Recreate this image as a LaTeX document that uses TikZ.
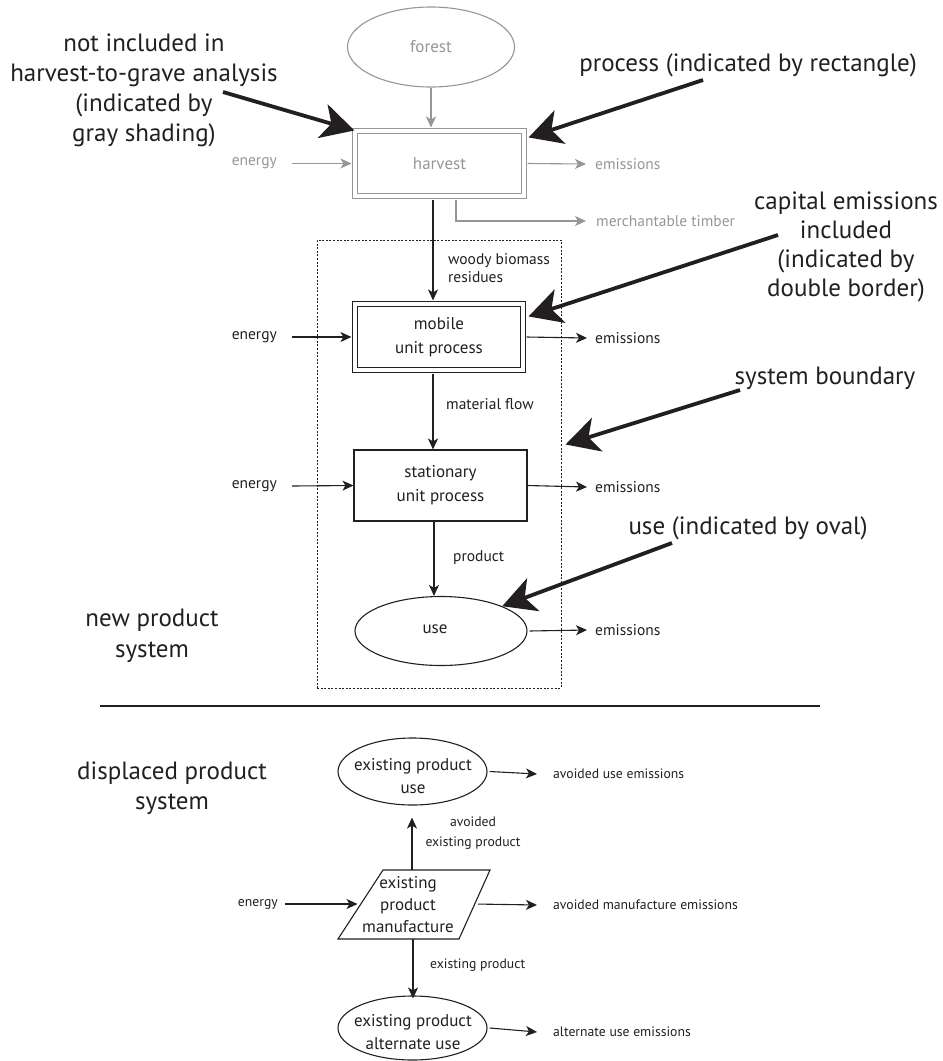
\documentclass[tikz,border=0pt]{standalone}
\usepackage{fontspec}
\setmainfont{PT Sans}
\usetikzlibrary{arrows.meta,shapes.geometric,calc}
\definecolor{ink}{RGB}{35,31,32}
\definecolor{lg}{RGB}{150,150,150}
\begin{document}
\begin{tikzpicture}[x=1pt,y=-1pt,
  every node/.style={text=ink},
  small/.style={font=\fontsize{15.5}{18}\selectfont, inner sep=0pt},
  smallb/.style={font=\fontsize{13.7}{19.5}\selectfont, inner sep=0pt},
  mid/.style={font=\fontsize{17}{24}\selectfont, align=center, inner sep=0pt},
  midb/.style={font=\fontsize{17}{22.5}\selectfont, align=center, inner sep=0pt},
  large/.style={font=\fontsize{25}{29}\selectfont, align=center, inner sep=0pt},
  flow/.style={draw=ink, line width=1.1pt, -{Stealth[length=11pt,width=10pt,inset=3pt]}},
  gflow/.style={flow, draw=lg},
  big/.style={draw=ink, line width=3.8pt, -{Stealth[length=33pt,width=35pt,inset=9pt]}},
  proc/.style={draw=ink, line width=1.1pt, inner sep=0pt},
  dbl/.style={proc, double, double distance=4.6pt},
  oval/.style={ellipse, draw=ink, line width=1.1pt, inner sep=0pt},
]
\useasboundingbox (0,0) rectangle (943,1061);

% ---------- gray part ----------
\node[oval, draw=lg, minimum width=167pt, minimum height=80pt] (forest) at (431,47) {};
\node[mid, text=lg] at (forest) {forest};
\node[dbl, draw=lg, minimum width=169pt, minimum height=65pt, mid, text=lg] (harvest) at (439.5,163.5) {harvest};
\node[small, text=lg, anchor=east] (genergy) at (277,163.5) {energy};
\node[small, text=lg, anchor=west] (gem) at (595,164) {emissions};
\node[small, text=lg, anchor=west] (mtimber) at (596,221) {merchantable timber};
\coordinate (fx) at (431,0);
\draw[gflow] (forest.south) -- ([yshift=3pt]fx |- harvest.north);
\draw[gflow] ([xshift=15pt]genergy.east) -- ([xshift=-3pt]harvest.west);
\draw[gflow] ([xshift=3pt]harvest.east) -- ([xshift=-9pt]gem.west);
\coordinate (mx) at (456,0);
\draw[gflow] ([yshift=-3pt]mx |- harvest.south) |- ([xshift=-10pt]mtimber.west);

% ---------- new product system ----------
\node[draw=ink, line width=1pt, dash pattern=on 2pt off 1.6pt, minimum width=244pt, minimum height=448pt, inner sep=0pt] (bound) at (439,464) {};

\node[dbl, minimum width=168pt, minimum height=66pt, mid] (mobile) at (439,337) {mobile\\unit process};
\node[proc, minimum width=173pt, minimum height=71pt, mid] (stat) at (440.5,485.5) {stationary\\unit process};
\node[oval, minimum width=172pt, minimum height=69pt] (use) at (441,631) {};
\node[mid] at (435,629) {use};

\coordinate (cx) at (433,0);
\draw[flow] ([yshift=-3pt]cx |- harvest.south) -- ([yshift=3pt]cx |- mobile.north);
\node[small, anchor=west, align=left] at (448,268) {woody biomass\\residues};

\node[small, anchor=east] (e1) at (277,337) {energy};
\draw[flow] ([xshift=15pt]e1.east) -- ([xshift=-3pt]mobile.west);
\node[small, anchor=west] (em1) at (595,338) {emissions};
\draw[flow] ([xshift=3pt]mobile.east) -- ([xshift=-8pt]em1.west);

\draw[flow] ([yshift=-3pt]cx |- mobile.south) -- (cx |- stat.north);
\node[small, anchor=west] at (446,404) {material flow};

\node[small, anchor=east] (e2) at (277,486) {energy};
\draw[flow] ([xshift=15pt]e2.east) -- (stat.west);
\node[small, anchor=west] (em2) at (595,487) {emissions};
\draw[flow] (stat.east) -- ([xshift=-8pt]em2.west);

\coordinate (cx2) at (434,0);
\draw[flow] (cx2 |- stat.south) -- (cx2 |- use.north);
\node[small, anchor=west] at (453,558) {product};

\node[small, anchor=west] (em3) at (595,630) {emissions};
\draw[flow] ([xshift=2pt]use.east) -- ([xshift=-8pt]em3.west);

\node[large, font=\fontsize{25}{31}\selectfont] (nps) at (152,636) {new product\\system};

\draw[ink, line width=2.6pt] (100,706) -- (820,706);

% ---------- annotations ----------
\node[large, font=\fontsize{25}{30}\selectfont] (annA) at (144,90) {not included in\\harvest-to-grave analysis\\(indicated by\\gray shading)};
\coordinate (tA) at (223,92);
\draw[big] (tA) -- (harvest.north west);

\node[large] (annB) at (748,65) {process (indicated by rectangle)};
\coordinate (tB) at (703,80);
\draw[big] (tB) -- ($(harvest.north east)+(4,7)$);

\node[large] (annC) at (846,247) {capital emissions\\included\\(indicated by\\double border)};
\coordinate (tC) at (778,235);
\draw[big] (tC) -- ($(mobile.north east)+(5,13)$);

\node[large] (annD) at (825,378) {system boundary};
\coordinate (tD) at (740,390);
\draw[big] (tD) -- ($(bound.north east)+(4,205)$);

\node[large] (annE) at (748,528) {use (indicated by oval)};
\coordinate (tE) at (672,543);
\draw[big] (tE) -- (use.north east);

% ---------- displaced product system ----------
\node[large, font=\fontsize{25}{30}\selectfont] (dps) at (172,788) {displaced product\\system};

\node[oval, minimum width=149pt, minimum height=67pt] (epu) at (412.5,771.5) {};
\node[midb] at (413,776) {existing product\\use};
\node[smallb, anchor=west] (aue) at (553,774) {avoided use emissions};
\draw[flow] ([xshift=2pt]epu.east) -- ([xshift=-16pt]aue.west);

\coordinate (pTL) at (383,870);
\coordinate (pTR) at (490,870);
\coordinate (pBR) at (459,939);
\coordinate (pBL) at (338,939);
\coordinate (pW) at (360.5,904);
\coordinate (pE) at (475,904);
\draw[ink, line width=1.1pt, line join=miter] (pTL) -- (pTR) -- (pBR) -- (pBL) -- cycle;
\node[midb, font=\fontsize{17}{22}\selectfont] (man) at (408,905) {existing\\product\\manufacture};

\coordinate (ux) at (412,0);
\draw[flow, shorten >=12pt] (ux |- pTL) -- (ux |- epu.south);
\node[smallb, align=center] at (473,833) {avoided\\existing product};

\node[smallb, anchor=east] (e3) at (278,904) {energy};
\draw[flow, shorten >=3pt] ([xshift=7pt]e3.east) -- (pW);
\node[smallb, anchor=west] (ame) at (553,905) {avoided manufacture emissions};
\draw[flow, shorten <=3pt] (pE) -- ([xshift=-16pt]ame.west);

\node[oval, minimum width=149pt, minimum height=64pt] (alt) at (412.5,1028) {};
\node[midb] at (413,1032) {existing product\\alternate use};
\coordinate (dx) at (413,0);
\draw[flow] (dx |- pBL) -- ([yshift=-3pt]dx |- alt.north);
\node[smallb, anchor=west] at (430,965) {existing product};
\node[smallb, anchor=west] (aule) at (553,1032) {alternate use emissions};
\draw[flow] ([xshift=2pt]alt.east) -- ([xshift=-16pt]aule.west);
\end{tikzpicture}
\end{document}
